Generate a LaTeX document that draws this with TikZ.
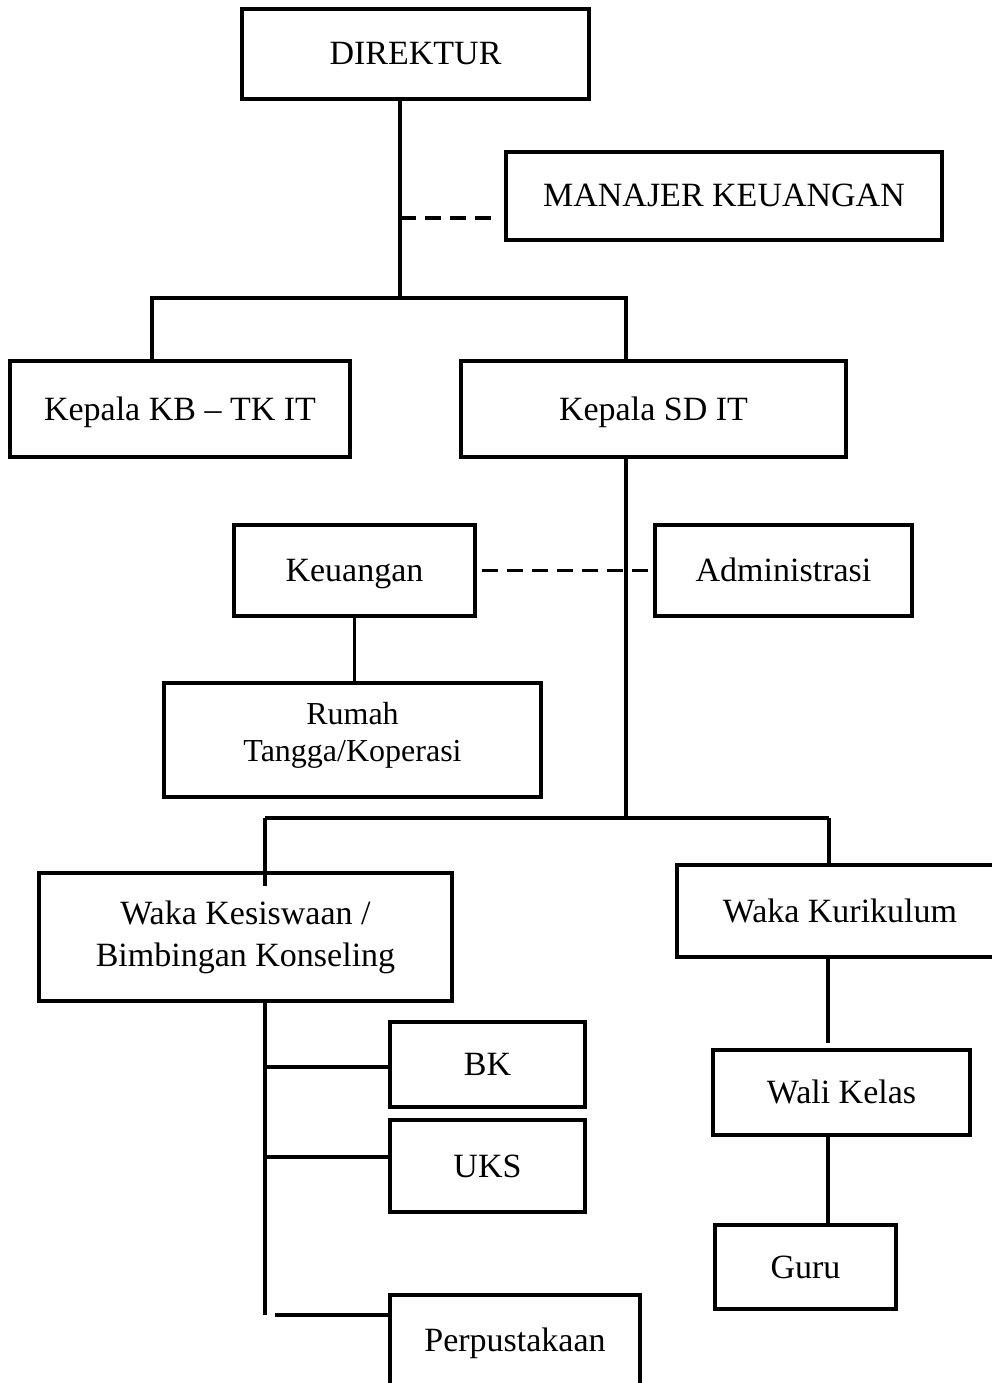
\documentclass[tikz,border=0pt]{standalone}
\usepackage{fontspec}
\setmainfont{Liberation Serif}
\begin{document}
\begin{tikzpicture}[x=1pt,y=-1pt,
  box/.style={draw,line width=3.6pt,rectangle,inner sep=0pt,align=center,
    font=\fontsize{34}{42}\selectfont},
  one/.style={text height=22pt,text depth=0pt},
  conn/.style={line width=3.2pt},
  dashconn/.style={line width=3.2pt,dash pattern=on 16pt off 9pt}]
\useasboundingbox (0,0) rectangle (991,1383);
% boxes
\node[box,one,minimum width=347,minimum height=90] (direktur) at (415.5,54) {DIREKTUR};
\node[box,one,minimum width=436,minimum height=88] (manajer) at (724,196) {MANAJER KEUANGAN};
\node[box,one,minimum width=340,minimum height=96] (kb) at (180,409) {Kepala KB – TK IT};
\node[box,one,minimum width=385,minimum height=96] (sd) at (653.5,409) {Kepala SD IT};
\node[box,one,minimum width=241,minimum height=91] (keu) at (354.5,570.5) {Keuangan};
\node[box,one,minimum width=257,minimum height=91] (adm) at (783.5,570.5) {Administrasi};
\node[box,minimum width=377,minimum height=114] (rumah) at (352.5,740) {};
\node[align=center,font=\fontsize{32}{37}\selectfont,inner sep=0pt] (rumahtext) at (352.5,735) {Rumah\\Tangga/Koperasi};
\node[box,minimum width=413,minimum height=128] (wakakes) at (245.5,937) {Waka Kesiswaan /\\Bimbingan Konseling};
\node[box,one,minimum width=326,minimum height=92] (wakakur) at (840,911) {Waka Kurikulum};
\node[box,one,minimum width=195,minimum height=85] (bk) at (487.5,1064.5) {BK};
\node[box,one,minimum width=195,minimum height=92] (uks) at (487.5,1166) {UKS};
\node[box,one,minimum width=250,minimum height=90] (perpus) at (515,1340) {Perpustakaan};
\node[box,one,minimum width=257,minimum height=85] (wali) at (841.5,1092.5) {Wali Kelas};
\node[box,one,minimum width=181,minimum height=84] (guru) at (805.5,1267) {Guru};
% junction coordinates
\coordinate (j1) at (400,298);
\coordinate (dm) at (400,218);
\coordinate (ja) at (152,298);
\coordinate (jb) at (626,298);
\coordinate (jc) at (626,818);
\coordinate (jd) at (265,818);
\coordinate (je) at (829,818);
\coordinate (jf) at (265,886);
\coordinate (jg) at (828,1043);
\coordinate (jh) at (265,1315);
\coordinate (jk) at (275,1315);
\coordinate (jbk) at (265,1067);
\coordinate (juks) at (265,1157);
\coordinate (jkeu) at (482,570.5);
% connectors
\draw[conn] (direktur.south -| j1) -- (j1);
\draw[dashconn] (dm) -- ([xshift=-6pt]dm -| manajer.west);
\draw[conn] (ja |- kb.north) -- (ja) -- (jb) -- (jb |- sd.north);
\draw[conn] (jb |- sd.south) -- (jc);
\draw[dashconn] (jkeu) -- (adm.west);
\draw[conn] (keu.south) -- (keu.south |- rumah.north);
\draw[conn] (jd) -- (je);
\draw[conn] (jd) -- (jf);
\draw[conn] (je) -- (je |- wakakur.north);
\draw[conn] (jg |- wakakur.south) -- (jg);
\draw[conn] (jg |- wali.south) -- (jg |- guru.north);
\draw[conn] (jh |- wakakes.south) -- (jh);
\draw[conn] (jbk) -- (jbk -| bk.west);
\draw[conn] (juks) -- (juks -| uks.west);
\draw[conn] (jk) -- (jk -| perpus.west);
\end{tikzpicture}
\end{document}
